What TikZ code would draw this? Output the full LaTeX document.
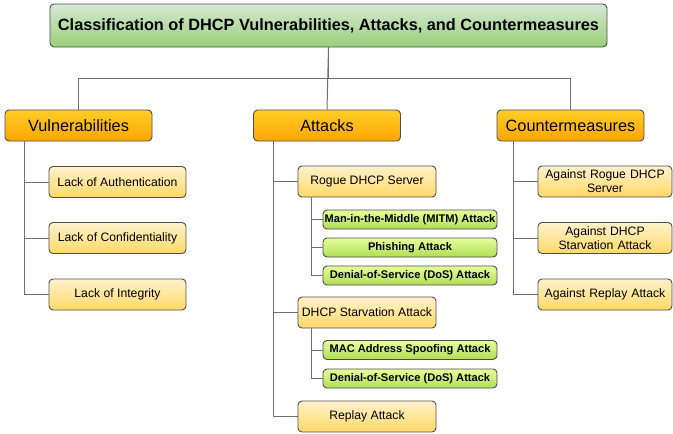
\documentclass[tikz,border=0pt]{standalone}
\usepackage{fontspec}
\setmainfont{Liberation Sans}
\definecolor{rootTop}{HTML}{D5E8D4}
\definecolor{rootBot}{HTML}{97D077}
\definecolor{catTop}{HTML}{FFCD28}
\definecolor{catBot}{HTML}{FFA500}
\definecolor{itemTop}{HTML}{FFF2CC}
\definecolor{itemBot}{HTML}{FFD966}
\definecolor{subTop}{HTML}{E6FF99}
\definecolor{subBot}{HTML}{B0DD55}
\definecolor{edge}{HTML}{4D4D4D}
\definecolor{wire}{HTML}{6E6E6E}
\tikzset{
  box/.style={draw=edge,line width=0.9pt,rounded corners=4pt,align=center,inner sep=1pt},
  rootbox/.style={box,top color=rootTop,bottom color=rootBot,minimum width=557pt,minimum height=43pt,font=\fontsize{16.3}{19}\selectfont\bfseries},
  catbox/.style={box,top color=catTop,bottom color=catBot,minimum width=147pt,minimum height=31pt,font=\fontsize{16.3}{19}\selectfont},
  itembox/.style={box,top color=itemTop,bottom color=itemBot,minimum height=31pt,font=\fontsize{12.2}{14}\selectfont},
  subbox/.style={box,top color=subTop,bottom color=subBot,minimum width=174pt,minimum height=19pt,font=\fontsize{11.1}{12}\selectfont\bfseries},
  wirec/.style={draw=wire,line width=1pt}
}
\begin{document}
\begin{tikzpicture}[x=1pt,y=-1pt]
\useasboundingbox (0,0) rectangle (673,434);
\node[rootbox] (root) at (328.5,25.5) {Classification of DHCP Vulnerabilities, Attacks, and Countermeasures};

% the three categories
\node[catbox] (vul) at (78.5,125.5) {Vulnerabilities};
\node[catbox] (att) at (327,125.5) {Attacks};
\node[catbox] (cm) at (570.5,125.5) {Countermeasures};

% vulnerabilities
\node[itembox,minimum width=137pt] (auth) at (117.5,182) {Lack of Authentication};
\node[itembox,minimum width=137pt] (conf) at (117.5,238) {Lack of Confidentiality};
\node[itembox,minimum width=137pt] (integ) at (117.5,294.5) {Lack of Integrity};

% attacks
\node[itembox,minimum width=138pt] (rogue) at (367,181.5) {Rogue DHCP Server};
\node[subbox] (mitm) at (410,219.5) {Man-in-the-Middle (MITM) Attack};
\node[subbox] (phish) at (410,247.5) {Phishing Attack};
\node[subbox] (dos) at (410,275.5) {Denial-of-Service (DoS) Attack};
\node[itembox,minimum width=138pt] (starv) at (367,312.5) {DHCP Starvation Attack};
\node[subbox] (mac) at (410,350) {MAC Address Spoofing Attack};
\node[subbox] (dosb) at (410,378.5) {Denial-of-Service (DoS) Attack};
\node[itembox,minimum width=138pt] (replay) at (367,416.5) {Replay Attack};

% countermeasures
\node[itembox,minimum width=134pt,text width=128pt] (cmrogue) at (605,181.5) {Against Rogue DHCP\\Server};
\node[itembox,minimum width=134pt,text width=128pt] (cmstarv) at (605,238) {Against DHCP\\Starvation Attack};
\node[itembox,minimum width=134pt,text width=128pt] (cmreplay) at (605,294.5) {Against Replay Attack};

% connectors
\draw[wirec] (root.south) -- (att.north);
\draw[wirec] (root.south) -- ++(0,31) -| (vul.north);
\draw[wirec] (root.south) -- ++(0,31) -| (cm.north);
\foreach \c in {auth,conf,integ}
  \draw[wirec] ([xshift=-54.5pt]vul.south) |- (\c.west);
\foreach \c in {rogue,starv,replay}
  \draw[wirec] ([xshift=-54pt]att.south) |- (\c.west);
\foreach \c in {mitm,phish,dos}
  \draw[wirec] ([xshift=-56pt]rogue.south) |- (\c.west);
\foreach \c in {mac,dosb}
  \draw[wirec] ([xshift=-56pt]starv.south) |- (\c.west);
\foreach \c in {cmrogue,cmstarv,cmreplay}
  \draw[wirec] ([xshift=-57.5pt]cm.south) |- (\c.west);
\end{tikzpicture}
\end{document}
